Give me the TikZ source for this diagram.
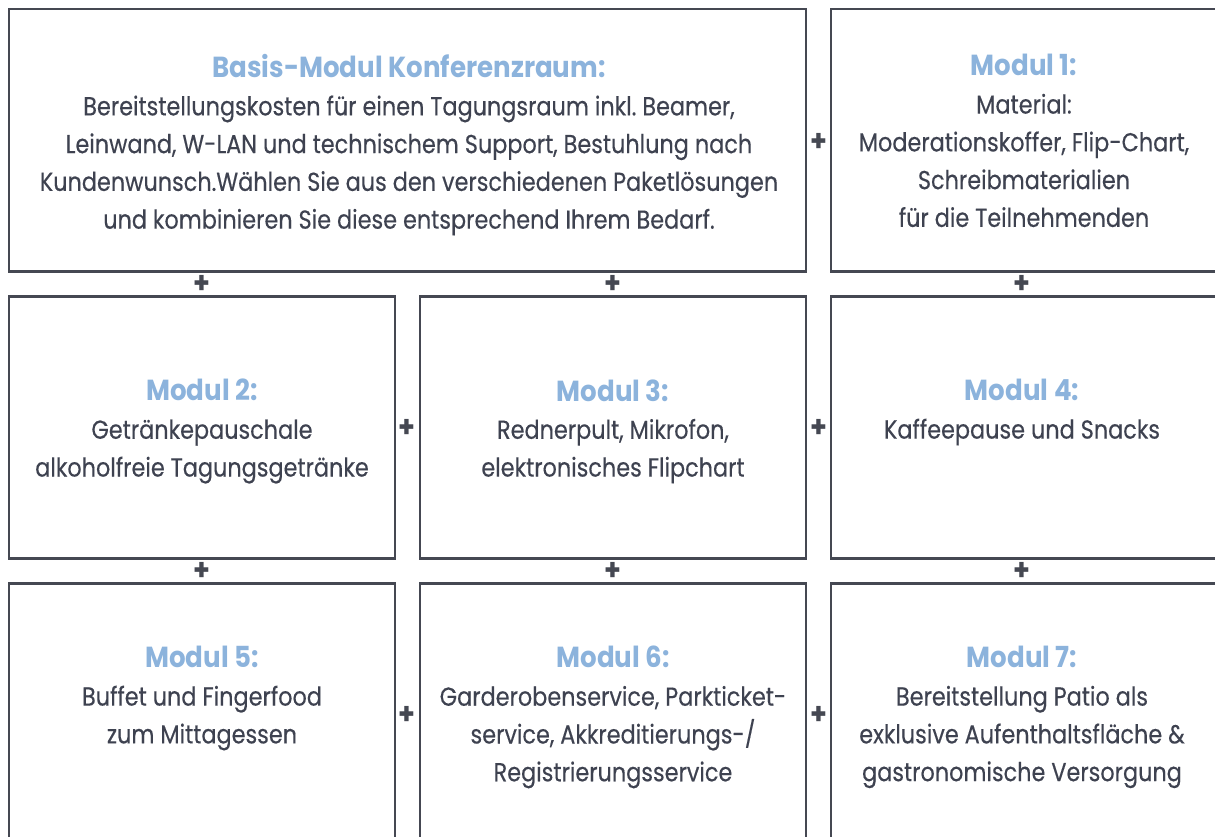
\documentclass[tikz,border=0pt]{standalone}
\usepackage{fontspec}
\setmainfont{Poppins}[FakeStretch=0.86, UprightFeatures={FakeBold=0.35}, BoldFeatures={FakeStretch=0.9}]
\usetikzlibrary{positioning}
\definecolor{framegray}{HTML}{454852}
\definecolor{textgray}{HTML}{3E4250}
\definecolor{titleblue}{HTML}{8CB3DC}
\newcommand{\modtitle}[1]{{\color{titleblue}\fontsize{16.5}{21.5}\selectfont\bfseries #1}}
\frenchspacing

\begin{document}
\begin{tikzpicture}
            [x=0.02cm, y=-0.02cm,
            font=\fontsize{14.8}{21.5}\selectfont, text=textgray,
            modbox/.style={draw=framegray, line width=1.7pt, inner sep=0pt},
            modtext/.style={anchor=north, align=center, inner sep=0pt},
            plus/.style={font=\fontsize{17}{17}\selectfont\bfseries, text=framegray, inner sep=0pt}]
            \clip (0,0) rectangle (1215,836);
            % Rahmen
            \draw[modbox] (9,9) rectangle (806,271);
            \draw[modbox] (831,9) rectangle (1240,271);
            \draw[modbox] (9,296) rectangle (395,558);
            \draw[modbox] (420,296) rectangle (806,558);
            \draw[modbox] (831,296) rectangle (1240,558);
            \draw[modbox] (9,583) rectangle (395,870);
            \draw[modbox] (420,583) rectangle (806,870);
            \draw[modbox] (831,583) rectangle (1240,870);
            % Texte
            \node[modtext] (basis) at (409,54) {\modtitle{Basis-Modul Konferenzraum:}\\
                Bereitstellungskosten für einen Tagungsraum inkl. Beamer,\\
                Leinwand, W-LAN und technischem Support, Bestuhlung nach\\
                Kundenwunsch.Wählen Sie aus den verschiedenen Paketlösungen\\
                und kombinieren Sie diese entsprechend Ihrem Bedarf.};
            \node[modtext] (mod1) at (1024,54) {\modtitle{Modul 1:}\\
                Material:\\
                Moderationskoffer, Flip-Chart,\\
                Schreibmaterialien\\
                für die Teilnehmenden};
            \node[modtext] (mod2) at (202,379) {\modtitle{Modul 2:}\\
                Getränkepauschale\\
                alkoholfreie Tagungsgetränke};
            \node[modtext] (mod3) at (613,379) {\modtitle{Modul 3:}\\
                Rednerpult, Mikrofon,\\
                elektronisches Flipchart};
            \node[modtext] (mod4) at (1022,379) {\modtitle{Modul 4:}\\
                Kaffeepause und Snacks};
            \node[modtext] (mod5) at (202,646) {\modtitle{Modul 5:}\\
                Buffet und Fingerfood\\
                zum Mittagessen};
            \node[modtext] (mod6) at (613,646) {\modtitle{Modul 6:}\\
                Garderobenservice, Parkticket-\\
                service, Akkreditierungs-/\\
                Registrierungsservice};
            \node[modtext] (mod7) at (1022,646) {\modtitle{Modul 7:}\\
                Bereitstellung Patio als\\
                exklusive Aufenthaltsfläche \&\\
                gastronomische Versorgung};
            % Pluszeichen
            \node[plus] (p01) at (819,142) {+};
            \node[plus] (p02) at (202,284) {+};
            \node[plus] (p03) at (613,284) {+};
            \node[plus] (p04) at (1022,284) {+};
            \node[plus] (p05) at (407,428) {+};
            \node[plus] (p06) at (819,428) {+};
            \node[plus] (p07) at (202,571) {+};
            \node[plus] (p08) at (613,571) {+};
            \node[plus] (p09) at (1022,571) {+};
            \node[plus] (p10) at (407,715) {+};
            \node[plus] (p11) at (819,715) {+};
\end{tikzpicture}
\end{document}
